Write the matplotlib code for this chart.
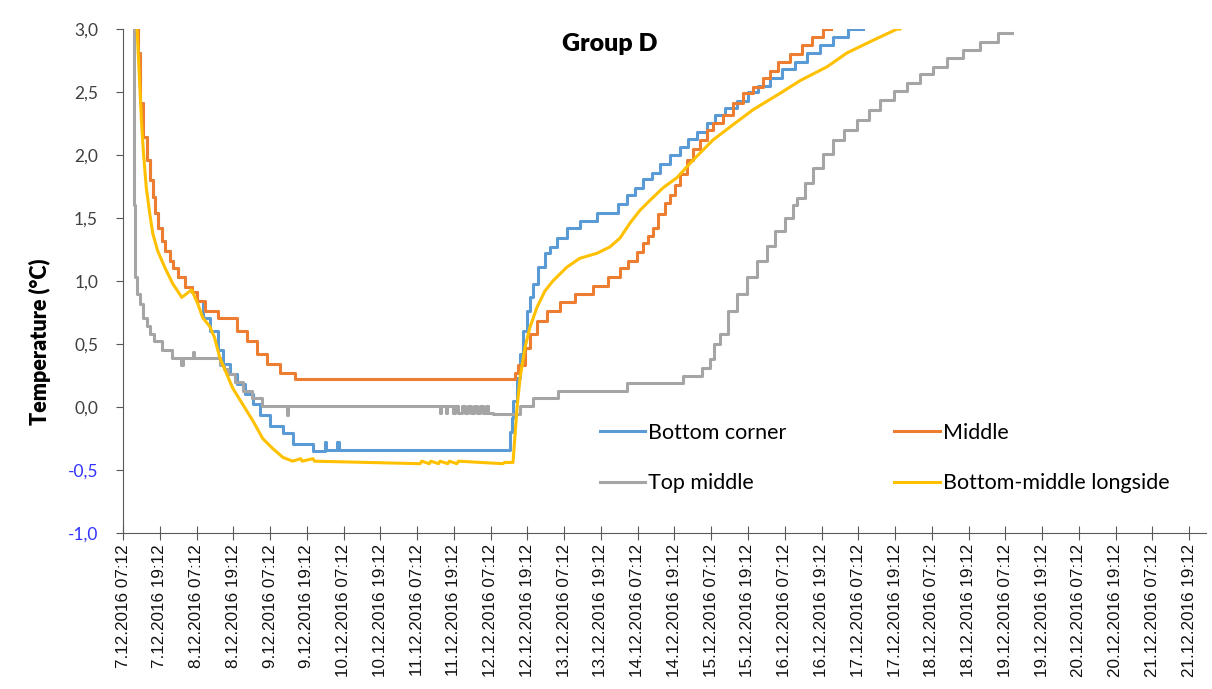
import numpy as np
import matplotlib.pyplot as plt

# x = hours since 7.12.2016 07:12, y = temperature in °C
bc_h = [4.4, 4.8, 5.5, 6.4, 7.7, 8.7, 9.7, 10.4, 11.3, 12.6, 13.6, 15.3, 16.2, 17.9,
        20.1, 22.4, 24.1, 26.0, 28.3, 30.9, 32.6, 35.0, 37.1, 39.7, 42.4, 44.6, 47.9,
        52.2, 55.4, 62.0, 65.9, 66.4, 69.9, 70.4, 126.3, 126.9, 127.3, 128.6, 129.6,
        130.5, 131.8, 132.8, 133.8, 135.4, 137.7, 139.4, 141.6, 144.9, 149.1, 154.7,
        161.5, 164.5, 167.1, 169.7, 172.7, 175.3, 178.5, 181.8, 184.4, 187.4, 190.6,
        193.3, 196.5, 200.4, 204.0, 207.3, 211.2, 215.1, 219.4, 223.3, 227.5, 231.8,
        236.7, 241.6]
bc_t = [3.2, 2.81, 2.41, 2.14, 1.96, 1.8, 1.67, 1.54, 1.42, 1.32, 1.24, 1.16, 1.1, 1.03,
        0.95, 0.91, 0.84, 0.71, 0.6, 0.45, 0.34, 0.26, 0.18, 0.1, 0.02, -0.06, -0.15,
        -0.21, -0.29, -0.35, -0.28, -0.34, -0.28, -0.34, -0.2, -0.09, 0.05, 0.23, 0.42,
        0.6, 0.76, 0.87, 0.98, 1.11, 1.22, 1.27, 1.34, 1.42, 1.48, 1.54,
        1.61, 1.68, 1.74, 1.81, 1.86, 1.93, 2.0, 2.06, 2.13, 2.18, 2.25,
        2.32, 2.37, 2.43, 2.5, 2.55, 2.61, 2.68, 2.74, 2.81, 2.87, 2.94,
        3.0, 3.0]

mid_h = [4.4, 4.8, 5.5, 6.4, 7.7, 8.7, 9.7, 10.4, 11.3, 12.6, 13.6, 15.3, 16.2, 17.9,
         20.1, 22.4, 24.1, 26.7, 30.9, 37.1, 40.4, 43.7, 46.9, 51.2, 56.1, 127.9, 128.9,
         131.2, 132.8, 135.1, 138.4, 142.6, 147.5, 153.4, 158.3, 162.2, 164.8, 167.8,
         169.7, 171.4, 173.0, 174.6, 176.9, 178.5, 180.2, 181.8, 184.1, 186.1, 188.3,
         190.6, 192.6, 195.8, 199.1, 202.4, 205.7, 208.9, 211.2, 213.8, 217.7, 221.7,
         224.9, 228.5, 231.0]
mid_t = [3.2, 2.81, 2.41, 2.14, 1.96, 1.8, 1.67, 1.54, 1.42, 1.32, 1.24, 1.16, 1.1, 1.03,
         0.95, 0.91, 0.84, 0.76, 0.71, 0.6, 0.52, 0.42, 0.34, 0.27, 0.22, 0.27, 0.33,
         0.47, 0.58, 0.68, 0.76, 0.83, 0.9, 0.96, 1.03, 1.1, 1.16, 1.23,
         1.3, 1.36, 1.42, 1.53, 1.62, 1.68, 1.76, 1.85, 1.96, 2.05, 2.12,
         2.2, 2.25, 2.32, 2.41, 2.49, 2.54, 2.61, 2.67, 2.74, 2.8, 2.87,
         2.94, 3.0, 3.0]

top_h = [3.0, 3.5, 3.8, 4.5, 5.5, 6.4, 7.7, 8.7, 10.0, 12.6, 15.9, 19.0, 19.6, 22.8,
         23.3, 31.6, 33.0, 34.2, 36.5, 39.1, 42.0, 45.3, 53.5, 53.9, 103.4, 103.8,
         105.4, 105.8, 107.7, 108.5, 109.5, 110.5, 111.5, 112.5, 113.5, 114.5, 115.5,
         116.5, 117.5, 118.5, 119.2, 120.7, 129.6, 133.8, 142.0, 164.5, 182.8, 189.0,
         191.6, 193.0, 194.9, 197.5, 200.4, 203.7, 207.0, 210.2, 212.8, 216.1, 218.7,
         220.0, 222.5, 225.3, 228.5, 231.8, 235.5, 239.6, 243.5, 247.1, 251.5, 255.9,
         260.2, 264.4, 269.0, 274.2, 279.8, 285.6, 290.2]
top_t = [3.4, 1.6, 1.03, 0.9, 0.82, 0.71, 0.64, 0.58, 0.52, 0.45, 0.39, 0.33, 0.39, 0.44,
         0.39, 0.33, 0.3, 0.26, 0.2, 0.13, 0.07, 0.01, -0.06, 0.01, -0.05, 0.01,
         -0.05, 0.01, -0.05, 0.01, -0.05, 0.01, -0.05, 0.01, -0.05, 0.01, -0.05,
         0.01, -0.05, 0.01, -0.05, -0.055, 0.01, 0.07, 0.13, 0.19, 0.25, 0.31,
         0.38, 0.5, 0.58, 0.76, 0.9, 1.03, 1.16, 1.28, 1.4, 1.5, 1.6,
         1.66, 1.78, 1.9, 2.01, 2.12, 2.2, 2.28, 2.36, 2.44, 2.51, 2.57,
         2.64, 2.7, 2.77, 2.83, 2.9, 2.97, 2.97]

bml_h = [4.5, 5.5, 6.0, 6.7, 7.6, 8.7, 9.7, 11.3, 13.6, 16.2, 19.2, 20.8, 22.4, 24.4,
         26.0, 28.3, 29.9, 31.6, 33.9, 35.8, 39.1, 42.4, 45.6, 48.9, 52.2, 55.4, 58.0,
         58.5, 62.0, 62.5, 97.0, 97.5, 100.0, 100.5, 103.0, 103.5, 106.0, 106.5, 109.0,
         109.5, 124.0, 124.5, 127.3, 128.6, 129.6, 131.2, 132.8, 135.1, 137.7, 140.3,
         144.9, 149.1, 154.7, 158.9, 162.2, 165.5, 168.7, 172.0, 176.3, 180.8, 186.1,
         192.6, 199.1, 205.7, 214.5, 221.0, 229.8, 236.3, 244.8, 252.7, 253.6]
bml_t = [3.05, 2.54, 2.28, 2.01, 1.74, 1.54, 1.38, 1.24, 1.11, 0.98, 0.87, 0.9, 0.93, 0.82,
         0.71, 0.64, 0.55, 0.39, 0.26, 0.15, 0.02, -0.11, -0.25, -0.33, -0.4, -0.43, -0.41,
         -0.43, -0.41, -0.43, -0.45, -0.43, -0.45, -0.43, -0.45, -0.43, -0.45, -0.43, -0.45,
         -0.43, -0.45, -0.44, -0.44, -0.01, 0.23, 0.47, 0.63, 0.79, 0.92, 1.0,
         1.11, 1.18, 1.22, 1.27, 1.34, 1.46, 1.56, 1.64, 1.74, 1.82, 1.96,
         2.12, 2.24, 2.36, 2.49, 2.59, 2.7, 2.81, 2.91, 3.0, 3.0]

days = list(range(7, 22))
tick_labels = [f"{d}.12.2016 {t}" for d in days for t in ("07:12", "19:12")]
tick_pos = np.arange(len(tick_labels)) * 12

fig = plt.figure(figsize=(12.12, 6.89), dpi=100)
ax = fig.add_axes([123 / 1212, 156 / 689, (1206 - 123) / 1212, (533 - 29) / 689])

lw = 2.2
l_bc, = ax.plot(bc_h, bc_t, color='#5B9BD5', lw=lw, drawstyle='steps-post', label='Bottom corner')
l_mid, = ax.plot(mid_h, mid_t, color='#ED7D31', lw=lw, drawstyle='steps-post', label='Middle')
l_top, = ax.plot(top_h, top_t, color='#A5A5A5', lw=lw, drawstyle='steps-post', label='Top middle')
l_bml, = ax.plot(bml_h, bml_t, color='#FFC000', lw=lw, label='Bottom-middle longside')

ax.set_xlim(0, 353.5)
ax.set_ylim(-1.0, 3.0)
ax.set_xticks(tick_pos)
ax.set_xticklabels(tick_labels, rotation=90, fontsize=12.3, family='Liberation Sans', color='#111111')
yt = np.arange(-1.0, 3.01, 0.5)
ax.set_yticks(yt)
ax.set_yticklabels([f"{v:.1f}".replace('.', ',') for v in yt], fontsize=12.5, family='Lato')
for lab, v in zip(ax.get_yticklabels(), yt):
    lab.set_color('#3333ff' if v < 0 else '#404040')

for s in ('top', 'right'):
    ax.spines[s].set_visible(False)
ax.spines['left'].set_color('#595959')
ax.spines['bottom'].set_color('#595959')
ax.tick_params(axis='x', direction='inout', length=10, color='#595959', pad=3)
ax.tick_params(axis='y', direction='out', length=5, color='#595959', pad=13)

fig.text(40 / 1212, 1 - 342 / 689, 'Temperature (°C)', rotation=90, ha='center', va='center',
         fontsize=15.5, fontweight='heavy', family='Lato')
fig.text(610 / 1212, 1 - 44 / 689, 'Group D', ha='center', va='center',
         fontsize=18, fontweight='heavy', family='Lato')

leg = ax.legend([l_bc, l_top, l_mid, l_bml],
                ['Bottom corner', 'Top middle', 'Middle', 'Bottom-middle longside'],
                ncol=2, frameon=False, loc='upper left',
                bbox_to_anchor=(600 / 1212, 1 - 423 / 689), bbox_transform=fig.transFigure,
                prop={'family': 'Lato', 'size': 15.5}, handlelength=2.1, handletextpad=0.15,
                labelspacing=1.4, columnspacing=5.0, borderpad=0, borderaxespad=0)

fig.savefig('out.png', dpi=100)
